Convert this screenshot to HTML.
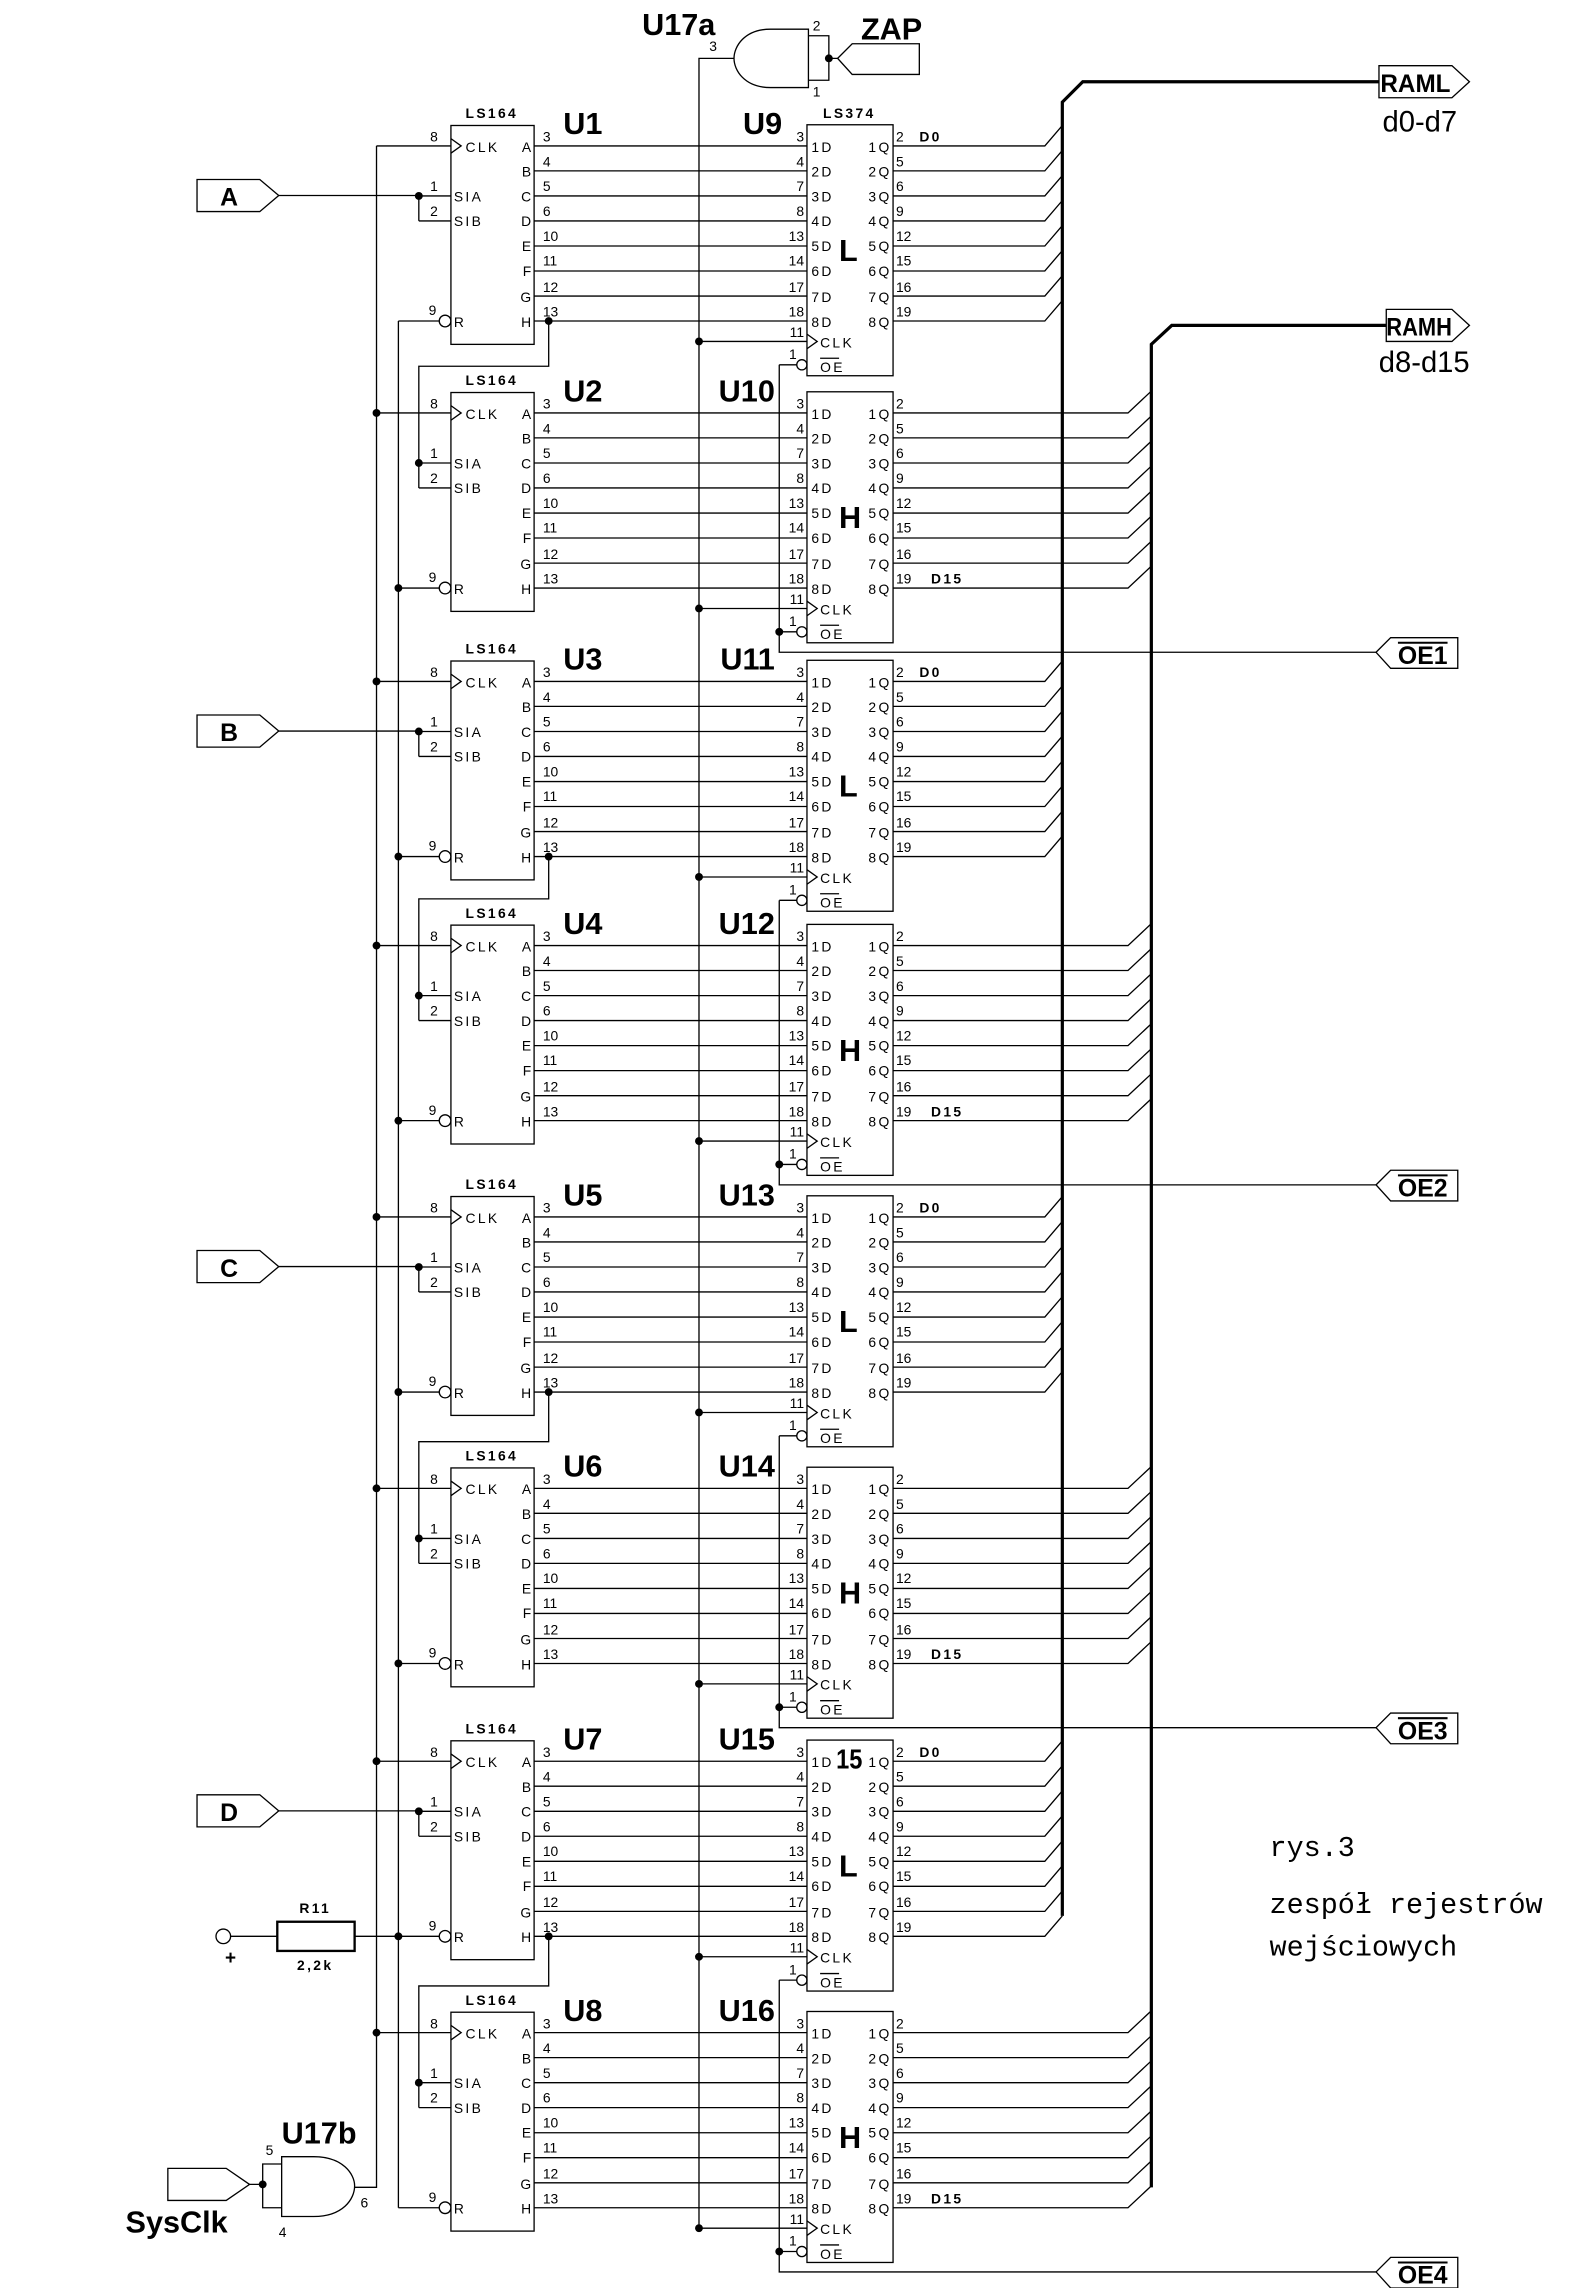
<!DOCTYPE html>
<html><head><meta charset="utf-8"><style>
html,body{margin:0;padding:0;background:#fff}
svg{display:block}
text{font-family:"Liberation Sans Narrow","Liberation Sans",sans-serif;fill:#000}
.s{font-size:9.5px}
.sp{font-size:9.5px;letter-spacing:1.6px}
.b{font-size:21px;font-weight:bold}
.m{font-family:"Liberation Mono","DejaVu Sans Mono",monospace;font-size:19.5px}
.ln{fill:none;stroke:#000;stroke-width:0.9}
.bus{fill:none;stroke:#000;stroke-width:2.2}
.d{fill:#000;stroke:none}
</style></head><body>
<svg width="1576" height="2288" viewBox="0 0 1080 1568" xmlns="http://www.w3.org/2000/svg">
<defs>
<g id="s164">
<rect class="ln" x="309" y="-14" width="57" height="150"/>
<path class="ln" d="M309,-5L316,0L309,5"/>
<path class="ln" d="M258,0H309M287,34.3H309M287,51.4H309M287,34.3V51.4M273,120H301M366,0H553M366,17.1H553M366,34.3H553M366,51.4H553M366,68.6H553M366,85.7H553M366,102.9H553M366,120H553"/>
<circle class="ln" cx="305" cy="120" r="4"/>
<circle class="d" cx="287" cy="34.3" r="2.7"/>
<text class="sp" x="337" y="-19" text-anchor="middle" font-weight="bold">LS164</text>
<text class="sp" x="319" y="4">CLK</text>
<text class="sp" x="311" y="38">SIA</text>
<text class="sp" x="311" y="55">SIB</text>
<text class="s" x="311" y="124">R</text>
<text class="s" x="300" y="-3" text-anchor="end">8</text>
<text class="s" x="300" y="31" text-anchor="end">1</text>
<text class="s" x="300" y="48" text-anchor="end">2</text>
<text class="s" x="299" y="116" text-anchor="end">9</text>
<g text-anchor="end">
<text class="s" x="364" y="4">A</text><text class="s" x="364" y="21">B</text><text class="s" x="364" y="38">C</text><text class="s" x="364" y="55">D</text><text class="s" x="364" y="72">E</text><text class="s" x="364" y="89">F</text><text class="s" x="364" y="107">G</text><text class="s" x="364" y="124">H</text>
</g>
<text class="s" x="372" y="-3">3</text><text class="s" x="372" y="14">4</text><text class="s" x="372" y="31">5</text><text class="s" x="372" y="48">6</text><text class="s" x="372" y="65">10</text><text class="s" x="372" y="82">11</text><text class="s" x="372" y="100">12</text><text class="s" x="372" y="117">13</text>
</g>
<g id="s374">
<rect class="ln" x="553" y="-14.5" width="59" height="172"/>
<path class="ln" d="M553,129L560,134L553,139M479,134H553M534,150H546M562,145.5H575"/>
<circle class="ln" cx="549.5" cy="150" r="3.5"/>
<circle class="d" cx="479" cy="134" r="2.7"/>
<g text-anchor="end">
<text class="s" x="551" y="-3">3</text><text class="s" x="551" y="14">4</text><text class="s" x="551" y="31">7</text><text class="s" x="551" y="48">8</text><text class="s" x="551" y="65">13</text><text class="s" x="551" y="82">14</text><text class="s" x="551" y="100">17</text><text class="s" x="551" y="117">18</text><text class="s" x="551" y="131">11</text><text class="s" x="546" y="146">1</text>
<text class="sp" x="611" y="4">1Q</text><text class="sp" x="611" y="21">2Q</text><text class="sp" x="611" y="38">3Q</text><text class="sp" x="611" y="55">4Q</text><text class="sp" x="611" y="72">5Q</text><text class="sp" x="611" y="89">6Q</text><text class="sp" x="611" y="107">7Q</text><text class="sp" x="611" y="124">8Q</text>
</g>
<text class="sp" x="556" y="4">1D</text><text class="sp" x="556" y="21">2D</text><text class="sp" x="556" y="38">3D</text><text class="sp" x="556" y="55">4D</text><text class="sp" x="556" y="72">5D</text><text class="sp" x="556" y="89">6D</text><text class="sp" x="556" y="107">7D</text><text class="sp" x="556" y="124">8D</text>
<text class="sp" x="562" y="138">CLK</text>
<text class="sp" x="562" y="155">OE</text>
<text class="s" x="614" y="-3">2</text><text class="s" x="614" y="14">5</text><text class="s" x="614" y="31">6</text><text class="s" x="614" y="48">9</text><text class="s" x="614" y="65">12</text><text class="s" x="614" y="82">15</text><text class="s" x="614" y="100">16</text><text class="s" x="614" y="117">19</text>
</g>
<path id="outL" class="ln" d="M612,0H716L728,-14M612,17.1H716L728,3.1M612,34.3H716L728,20.3M612,51.4H716L728,37.4M612,68.6H716L728,54.6M612,85.7H716L728,71.7M612,102.9H716L728,88.9M612,120H716L728,106"/>
<path id="outH" class="ln" d="M612,0H773L789,-15M612,17.1H773L789,2.1M612,34.3H773L789,19.3M612,51.4H773L789,36.4M612,68.6H773L789,53.6M612,85.7H773L789,70.7M612,102.9H773L789,87.9M612,120H773L789,105"/>
</defs>

<use href="#s164" y="100"/><use href="#s374" y="100"/><use href="#outL" y="100"/>
<use href="#s164" y="283"/><use href="#s374" y="283"/><use href="#outH" y="283"/>
<use href="#s164" y="467"/><use href="#s374" y="467"/><use href="#outL" y="467"/>
<use href="#s164" y="648"/><use href="#s374" y="648"/><use href="#outH" y="648"/>
<use href="#s164" y="834"/><use href="#s374" y="834"/><use href="#outL" y="834"/>
<use href="#s164" y="1020"/><use href="#s374" y="1020"/><use href="#outH" y="1020"/>
<use href="#s164" y="1207"/><use href="#s374" y="1207"/><use href="#outL" y="1207"/>
<use href="#s164" y="1393"/><use href="#s374" y="1393"/><use href="#outH" y="1393"/>

<path class="ln" d="M258,100V1499H243M273,220V1513M479,1527V40H503"/>
<path class="bus" d="M728,1313V70L742,56H945"/>
<path class="bus" d="M789,1499V236L803,223H950"/>

<g class="d">
<circle cx="258" cy="283" r="2.7"/><circle cx="258" cy="467" r="2.7"/><circle cx="258" cy="648" r="2.7"/><circle cx="258" cy="834" r="2.7"/><circle cx="258" cy="1020" r="2.7"/><circle cx="258" cy="1207" r="2.7"/><circle cx="258" cy="1393" r="2.7"/>
<circle cx="273" cy="403" r="2.7"/><circle cx="273" cy="587" r="2.7"/><circle cx="273" cy="768" r="2.7"/><circle cx="273" cy="954" r="2.7"/><circle cx="273" cy="1140" r="2.7"/><circle cx="273" cy="1327" r="2.7"/>
<circle cx="376" cy="220" r="2.7"/><circle cx="376" cy="587" r="2.7"/><circle cx="376" cy="954" r="2.7"/><circle cx="376" cy="1327" r="2.7"/>
<circle cx="534" cy="433" r="2.7"/><circle cx="534" cy="798" r="2.7"/><circle cx="534" cy="1170" r="2.7"/><circle cx="534" cy="1543" r="2.7"/>
<circle cx="568" cy="40" r="2.7"/><circle cx="180" cy="1497" r="2.7"/>
</g>

<path class="ln" d="M376,220V251H287V317M376,587V616H287V682M376,954V988H287V1054M376,1327V1361H287V1427"/>
<path class="ln" d="M534,250V447H943M534,617V812H943M534,984V1184H943M534,1357V1557H943"/>

<path class="ln" d="M191,134H287M191,501H287M191,868H287M191,1241H287"/>
<g class="ln">
<polygon points="135,123 178,123 191,134 178,145 135,145"/>
<polygon points="135,490 178,490 191,501 178,512 135,512"/>
<polygon points="135,857 178,857 191,868 178,879 135,879"/>
<polygon points="135,1230 178,1230 191,1241 178,1252 135,1252"/>
</g>
<g class="b" text-anchor="middle" style="font-size:17px">
<text x="157" y="141">A</text><text x="157" y="508">B</text><text x="157" y="875">C</text><text x="157" y="1248">D</text>
</g>

<g class="ln">
<polygon points="943,447 953,437 999,437 999,458 953,458"/>
<polygon points="943,812 953,802 999,802 999,823 953,823"/>
<polygon points="943,1184 953,1174 999,1174 999,1195 953,1195"/>
<polygon points="943,1557 953,1547 999,1547 999,1568 953,1568"/>
</g>
<path class="ln" style="stroke-width:1.4" d="M958,440.5H992M958,805.5H992M958,1177.5H992M958,1550.5H992"/>
<g class="b" text-anchor="middle" style="font-size:17px">
<text x="975" y="455">OE1</text><text x="975" y="820">OE2</text><text x="975" y="1192">OE3</text><text x="975" y="1565">OE4</text>
</g>

<polygon class="ln" points="945,45 995,45 1007,56 995,67 945,67"/>
<polygon class="ln" points="950,212 995,212 1007,223 995,234 950,234"/>
<text class="b" x="946" y="63" textLength="48" lengthAdjust="spacingAndGlyphs" style="font-size:17px">RAML</text>
<text class="b" x="950" y="230" textLength="45" lengthAdjust="spacingAndGlyphs" style="font-size:17px">RAMH</text>
<text x="973" y="90" text-anchor="middle" style="font-size:20px">d0-d7</text>
<text x="976" y="255" text-anchor="middle" style="font-size:20px">d8-d15</text>

<g class="b">
<text x="386" y="92">U1</text><text x="386" y="275">U2</text><text x="386" y="459">U3</text><text x="386" y="640">U4</text><text x="386" y="826">U5</text><text x="386" y="1012">U6</text><text x="386" y="1199">U7</text><text x="386" y="1385">U8</text>
</g>
<g class="b" text-anchor="end">
<text x="536" y="92">U9</text><text x="531" y="275">U10</text><text x="531" y="459">U11</text><text x="531" y="640">U12</text><text x="531" y="826">U13</text><text x="531" y="1012">U14</text><text x="531" y="1199">U15</text><text x="531" y="1385">U16</text>
</g>
<g class="b">
<text x="575" y="179">L</text><text x="575" y="362">H</text><text x="575" y="546">L</text><text x="575" y="727">H</text><text x="575" y="913">L</text><text x="575" y="1099">H</text><text x="575" y="1286">L</text><text x="575" y="1472">H</text>
<text x="573" y="1212" textLength="18" lengthAdjust="spacingAndGlyphs" style="font-size:19px">15</text>
</g>
<text class="sp" x="582" y="81" text-anchor="middle" font-weight="bold">LS374</text>
<g class="sp" font-weight="bold">
<text x="630" y="97">D0</text><text x="638" y="400">D15</text><text x="630" y="464">D0</text><text x="638" y="765">D15</text><text x="630" y="831">D0</text><text x="638" y="1137">D15</text><text x="630" y="1204">D0</text><text x="638" y="1510">D15</text>
</g>

<path class="ln" d="M554,20H528C510,20 503,32 503,40C503,48 510,60 528,60H554Z"/>
<path class="ln" d="M554,24.5H568V55H554M568,40L574,40"/>
<polygon class="ln" points="574,40 584,30 630,30 630,51 584,51"/>
<text class="b" x="440" y="24">U17a</text>
<text class="b" x="590" y="27">ZAP</text>
<text class="s" x="486" y="35">3</text>
<text class="s" x="557" y="21">2</text>
<text class="s" x="557" y="66">1</text>

<path class="ln" d="M193,1478H215C235,1478 243,1490 243,1498C243,1507 235,1519 215,1519H193Z"/>
<path class="ln" d="M193,1483H180V1513H193M171,1497H180"/>
<polygon class="ln" points="115,1486 155,1486 171,1497 155,1508 115,1508"/>
<text class="b" x="193" y="1469">U17b</text>
<text class="b" x="86" y="1530">SysClk</text>
<text class="s" x="182" y="1477">5</text>
<text class="s" x="247" y="1513">6</text>
<text class="s" x="191" y="1533">4</text>

<circle class="ln" cx="153" cy="1327" r="5"/>
<path class="ln" d="M158,1327H190M243,1327H273"/>
<rect x="190" y="1317" width="53" height="20" fill="none" stroke="#000" stroke-width="1.6"/>
<text class="sp" x="216" y="1311" text-anchor="middle" font-weight="bold">R11</text>
<text class="sp" x="216" y="1350" text-anchor="middle" font-weight="bold">2,2k</text>
<text x="158" y="1346" text-anchor="middle" style="font-size:13px;font-weight:bold">+</text>

<text class="m" x="870" y="1272">rys.3</text>
<text class="m" x="870" y="1311">zespół rejestrów</text>
<text class="m" x="870" y="1340">wejściowych</text>
</svg>
</body></html>
